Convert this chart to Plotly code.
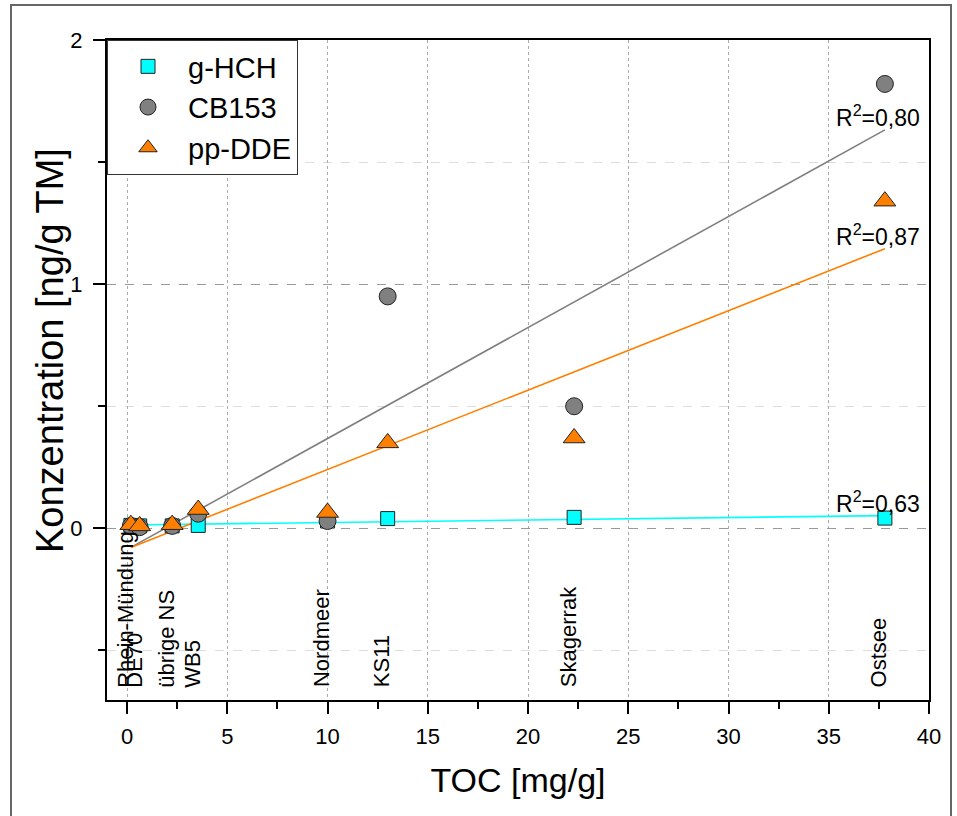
import numpy as np
import plotly.graph_objects as go

# ---- data ----
stations = ["Rhein-Mündung", "DE70", "übrige NS", "WB5", "Nordmeer", "KS11", "Skagerrak", "Ostsee"]
toc = [0.19, 0.63, 2.25, 3.55, 10.0, 13.0, 22.3, 37.8]
g_hch = [0.012, 0.010, 0.010, 0.012, 0.030, 0.040, 0.045, 0.042]
cb153 = [0.010, 0.005, 0.010, 0.060, 0.030, 0.950, 0.500, 1.820]
pp_dde = [0.015, 0.010, 0.015, 0.077, 0.065, 0.350, 0.370, 1.340]
r2_labels = ["0,63", "0,80", "0,87"]

FONT = "Liberation Sans, Arial, sans-serif"
CYAN = "#00FFFF"
GRAY = "#808080"
ORANGE = "#FF8000"

fig = go.Figure()

series = [("g-HCH", g_hch, CYAN, "square", 14),
          ("CB153", cb153, GRAY, "circle", 17),
          ("pp-DDE", pp_dde, ORANGE, "triangle-up", 19)]

# linear fits
xs = np.array(toc)
fits = {}
for name, vals, col, sym, sz in series:
    k, d = np.polyfit(xs, np.array(vals), 1)
    xf = np.array([min(toc), max(toc)])
    fits[name] = (xf, k * xf + d)
    fig.add_trace(go.Scatter(x=xf, y=k * xf + d, mode="lines",
                             line=dict(color=col, width=1.6), showlegend=False,
                             hoverinfo="skip"))

for name, vals, col, sym, sz in series:
    fig.add_trace(go.Scatter(x=toc, y=vals, mode="markers", name=name,
                             marker=dict(symbol=sym, size=sz, color=col,
                                         line=dict(color="#222222", width=1))))

# station labels
for st, xv in zip(stations, toc):
    fig.add_annotation(x=xv, y=-0.66, xref="x", yref="y", text=st, textangle=-90,
                       showarrow=False, xanchor="center", yanchor="bottom", xshift=-6,
                       font=dict(family=FONT, size=22, color="black"))

# R^2 labels
for (name, vals, col, sym, sz), r2 in zip(series, r2_labels):
    xf, yf = fits[name]
    fig.add_annotation(x=xf[-1], y=yf[-1], text="R<sup>2</sup>=" + r2, showarrow=False,
                       xanchor="center", yanchor="bottom", xshift=-7, yshift=-3,
                       font=dict(family=FONT, size=23, color="black"))

# plot area: page x 107..929, y 40..700
L, T, PW, PH = 107, 40, 822, 660
W, H = 957, 816

# y-axis title (placed as annotation, slightly above centre like the reference)
fig.add_annotation(x=(50 - L) / PW, y=(T + PH - 351) / PH, xref="paper", yref="paper",
                   text="Konzentration [ng/g TM]", textangle=-90, showarrow=False,
                   xanchor="center", yanchor="middle",
                   font=dict(family=FONT, size=38, color="black"))

# outer frame
fig.add_shape(type="rect", xref="paper", yref="paper",
              x0=(11 - L) / PW, x1=(951 - L) / PW,
              y0=-0.3, y1=(T + PH - 5) / PH,
              line=dict(color="#666666", width=2), fillcolor="rgba(0,0,0,0)", layer="below")

fig.update_layout(
    width=W, height=H,
    margin=dict(l=L, r=W - L - PW, t=T, b=H - T - PH),
    paper_bgcolor="white", plot_bgcolor="white",
    font=dict(family=FONT, color="black"),
    showlegend=True,
    legend=dict(x=0, y=1, xanchor="left", yanchor="top", bgcolor="white",
                bordercolor="#333333", borderwidth=1,
                font=dict(family=FONT, size=29), itemwidth=70,
                tracegroupgap=0),
    xaxis=dict(range=[-1, 40], dtick=5, tick0=0,
               showline=True, linecolor="black", linewidth=2, mirror=True,
               ticks="outside", ticklen=12, tickwidth=2, tickcolor="black",
               tickfont=dict(family=FONT, size=22), ticklabelstandoff=4,
               showgrid=True, gridcolor="#aaaaaa", griddash="dot", gridwidth=1,
               zeroline=False,
               minor=dict(dtick=2.5, ticks="outside", ticklen=7, tickwidth=2,
                          tickcolor="black", showgrid=False),
               title=dict(text="TOC [mg/g]", font=dict(family=FONT, size=34), standoff=20)),
    yaxis=dict(range=[-0.703, 2], dtick=1, tick0=0,
               showline=True, linecolor="black", linewidth=2, mirror=True,
               ticks="outside", ticklen=12, tickwidth=2, tickcolor="black",
               tickfont=dict(family=FONT, size=22), ticklabelstandoff=6,
               showgrid=True, gridcolor="#999999", griddash="dash", gridwidth=1,
               zeroline=False,
               minor=dict(dtick=0.5, ticks="outside", ticklen=7, tickwidth=2,
                          tickcolor="black", showgrid=True, gridcolor="#dddddd",
                          griddash="dash", gridwidth=1)),
)

fig.write_html("out.html", config={"displayModeBar": False},
               post_script="document.body.style.margin='0';document.body.style.overflow='hidden';")
